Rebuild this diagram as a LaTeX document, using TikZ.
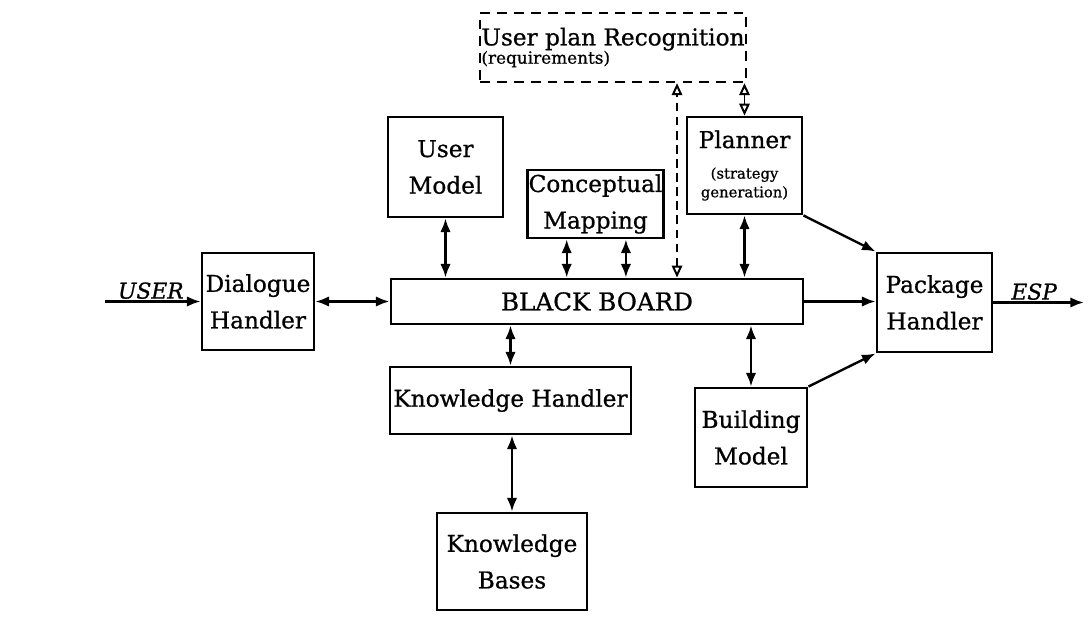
\documentclass[tikz,border=0pt]{standalone}
\usepackage{fontspec}
\setmainfont{DejaVu Serif}[FakeBold=0.8]
\usetikzlibrary{arrows.meta,calc}

\newcommand{\smalltxt}{\fontsize{10.5}{12.5}\selectfont}

\begin{document}
\begin{tikzpicture}[x=0.025cm,y=-0.025cm,>={Latex[length=3.4mm,width=2.6mm]},
  box/.style={draw,line width=2pt,align=center,inner sep=1pt,font=\fontsize{16.5}{26}\selectfont},
  plan/.style={box,dashed,line width=1.6pt,dash pattern=on 7pt off 5pt},
  link/.style={line width=1.7pt},
  open link/.style={line width=1.4pt,{Triangle[open,length=3mm,width=2.6mm]}-{Triangle[open,length=3mm,width=2.6mm]}},
  tag/.style={font=\fontsize{15.5}{18}\selectfont\itshape,anchor=south,inner sep=1pt}]
  \useasboundingbox (0,0) rectangle (1088,618);

  % blackboard and the modules round it
  \node[box,minimum width=10.3cm,minimum height=1.125cm,font=\fontsize{17.5}{20}\selectfont] (bboard) at (597,301.5) {BLACK BOARD};
  \node[plan,minimum width=6.6cm,minimum height=1.725cm,align=left,font=\fontsize{16.5}{13}\selectfont] (upr) at (613,47.5)
    {User plan Recognition\\{\fontsize{12}{13}\selectfont(requirements)}};
  \node[box,minimum width=2.875cm,minimum height=2.5cm] (umodel) at (445.5,167) {User\\Model};
  \node[box,minimum width=3.375cm,minimum height=1.7cm] (cmap) at (595.5,204) {Conceptual\\Mapping};
  \node[box,minimum width=2.875cm,minimum height=2.425cm] (planner) at (744.5,165.5)
    {Planner\\[9pt]\smalltxt\shortstack{(strategy\\generation)}};
  \node[box,minimum width=2.8cm,minimum height=2.425cm] (dialog) at (258,301.5) {Dialogue\\Handler};
  \node[box,minimum width=2.875cm,minimum height=2.475cm] (package) at (934.5,302.5) {Package\\Handler};
  \node[box,minimum width=2.8cm,minimum height=2.475cm] (building) at (751,437.5) {Building\\Model};
  \node[box,minimum width=6.025cm,minimum height=1.675cm] (khandler) at (510.5,400.5) {Knowledge Handler};
  \node[box,minimum width=3.75cm,minimum height=2.425cm] (kbases) at (512,561.5) {Knowledge\\Bases};

  % free ends
  \coordinate (user) at (105,301.5);
  \coordinate (esp) at (1084,302.5);
  \coordinate (recog) at ([xshift=2cm]bboard.north);

  % connectors
  \draw[link,->] (user) -- (dialog.west) node[tag,pos=0.48] {USER};
  \draw[link,<->] (dialog.east) -- (bboard.west);
  \draw[link,<->] (umodel.south) -- (umodel.south |- bboard.north);
  \draw[link,<->] ([xshift=-0.72cm]cmap.south) -- ([xshift=-0.72cm]cmap.south |- bboard.north);
  \draw[link,<->] ([xshift=0.76cm]cmap.south) -- ([xshift=0.76cm]cmap.south |- bboard.north);
  \draw[link,<->] (planner.south) -- (planner.south |- bboard.north);
  \draw[open link,dashed,dash pattern=on 6pt off 4pt] (recog) -- (recog |- upr.south);
  \draw[open link] (planner.north) -- (planner.north |- upr.south);
  \draw[link,->] (bboard.east) -- (bboard.east -| package.west);
  \draw[link,->] (planner.south east) -- (package.north west);
  \draw[link,->] (building.north east) -- (package.south west);
  \draw[link,<->] (building.north) -- (building.north |- bboard.south);
  \draw[link,<->] (khandler.north) -- (khandler.north |- bboard.south);
  \draw[link,<->] (kbases.north) -- (kbases.north |- khandler.south);
  \draw[link,->] (package.east) -- (esp) node[tag,pos=0.45] {ESP};
\end{tikzpicture}
\end{document}
